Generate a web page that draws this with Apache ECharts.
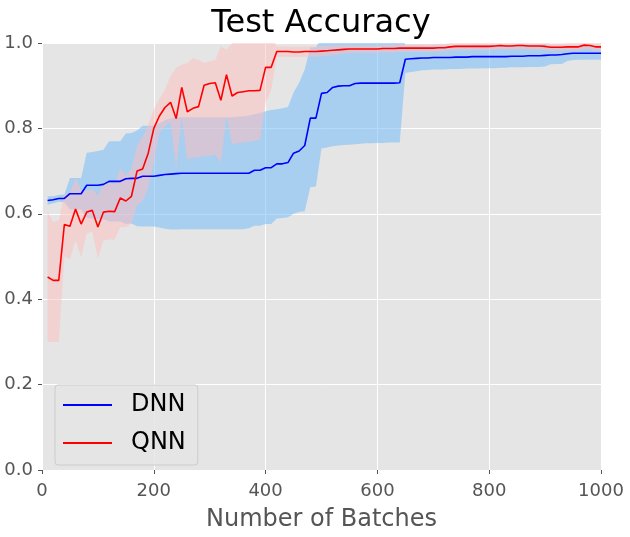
<!DOCTYPE html>
<html>
<head>
<meta charset="utf-8">
<script src="https://cdn.jsdelivr.net/npm/echarts@6/dist/echarts.min.js"></script>
<style>
html,body{margin:0;padding:0;background:#fff;}
#chart{width:630px;height:537px;}
</style>
</head>
<body>
<div id="chart"></div>
<script>
// x positions (number of batches)
const batches = [10,20,30,40,50,60,70,80,90,100,110,120,130,140,150,160,170,180,190,200,
210,220,230,240,250,260,270,280,290,300,310,320,330,340,350,360,370,380,390,400,
410,420,430,440,450,460,470,480,490,500,510,520,530,540,550,560,570,580,590,600,
610,620,630,640,650,660,670,680,690,700,710,720,730,740,750,760,770,780,790,800,
810,820,830,840,850,860,870,880,890,900,910,920,930,940,950,960,970,980,990,1000];

// DNN mean accuracy
const dnnMean = [0.631,0.633,0.636,0.636,0.647,0.647,0.647,0.667,0.667,0.667,
0.669,0.676,0.676,0.676,0.682,0.683,0.683,0.688,0.688,0.688,
0.690,0.692,0.693,0.694,0.695,0.695,0.695,0.695,0.695,0.695,
0.695,0.695,0.695,0.695,0.695,0.695,0.695,0.702,0.702,0.708,
0.708,0.717,0.717,0.720,0.742,0.747,0.760,0.824,0.824,0.882,
0.884,0.896,0.899,0.900,0.900,0.905,0.906,0.906,0.906,0.906,
0.906,0.906,0.906,0.907,0.962,0.963,0.964,0.965,0.965,0.966,
0.966,0.966,0.966,0.967,0.967,0.967,0.968,0.968,0.968,0.968,
0.968,0.968,0.968,0.969,0.969,0.969,0.970,0.970,0.970,0.971,
0.972,0.972,0.973,0.975,0.976,0.976,0.976,0.976,0.976,0.976];

// DNN band: lower and upper edges
const dnnLow = [0.621,0.625,0.628,0.627,0.610,0.610,0.610,0.591,0.589,0.587,
0.588,0.582,0.582,0.582,0.576,0.577,0.571,0.570,0.570,0.570,
0.568,0.565,0.563,0.563,0.564,0.564,0.564,0.564,0.564,0.564,
0.564,0.564,0.564,0.564,0.564,0.564,0.566,0.572,0.572,0.576,
0.576,0.589,0.590,0.592,0.600,0.604,0.606,0.662,0.664,0.753,
0.755,0.758,0.760,0.761,0.762,0.763,0.764,0.765,0.765,0.766,
0.766,0.767,0.767,0.767,0.930,0.932,0.934,0.936,0.937,0.938,
0.938,0.938,0.939,0.939,0.939,0.940,0.940,0.940,0.941,0.941,
0.941,0.942,0.942,0.943,0.943,0.943,0.944,0.944,0.944,0.945,
0.950,0.951,0.951,0.958,0.960,0.961,0.961,0.961,0.961,0.961];

const dnnHigh = [0.641,0.641,0.644,0.645,0.684,0.684,0.684,0.743,0.745,0.747,
0.750,0.770,0.770,0.770,0.788,0.789,0.795,0.806,0.806,0.806,
0.812,0.819,0.823,0.825,0.826,0.826,0.826,0.826,0.826,0.826,
0.826,0.826,0.826,0.826,0.827,0.828,0.830,0.833,0.836,0.840,
0.843,0.845,0.847,0.850,0.884,0.907,0.938,0.990,0.990,1.011,
1.013,1.034,1.038,1.039,1.038,1.047,1.048,1.047,1.047,1.046,
1.046,1.045,1.045,1.047,0.994,0.994,0.994,0.994,0.993,0.994,
0.994,0.994,0.993,0.995,0.995,0.994,0.996,0.996,0.995,0.995,
0.995,0.994,0.994,0.995,0.995,0.995,0.996,0.996,0.996,0.997,
0.994,0.993,0.995,0.992,0.992,0.991,0.991,0.991,0.991,0.991];

// QNN mean accuracy
const qnnMean = [0.452,0.444,0.444,0.575,0.571,0.611,0.576,0.604,0.608,0.569,
0.604,0.606,0.605,0.637,0.630,0.641,0.700,0.705,0.742,0.800,
0.829,0.849,0.861,0.823,0.896,0.839,0.847,0.851,0.901,0.905,
0.907,0.866,0.926,0.876,0.884,0.886,0.888,0.888,0.889,0.943,
0.943,0.980,0.980,0.980,0.979,0.979,0.980,0.980,0.980,0.981,
0.982,0.983,0.984,0.985,0.986,0.986,0.986,0.986,0.986,0.986,
0.987,0.987,0.987,0.988,0.988,0.988,0.988,0.988,0.988,0.988,
0.989,0.989,0.991,0.992,0.992,0.992,0.992,0.992,0.992,0.992,
0.993,0.994,0.993,0.993,0.994,0.994,0.993,0.993,0.993,0.992,
0.990,0.990,0.990,0.991,0.991,0.991,0.995,0.994,0.991,0.991];

// QNN band: lower and upper edges
const qnnLow = [0.300,0.300,0.300,0.500,0.494,0.538,0.498,0.554,0.558,0.496,
0.538,0.540,0.540,0.569,0.569,0.577,0.620,0.630,0.660,0.720,
0.790,0.805,0.815,0.707,0.826,0.727,0.731,0.733,0.735,0.736,
0.738,0.720,0.830,0.763,0.765,0.767,0.769,0.771,0.773,0.860,
0.890,0.968,0.968,0.968,0.967,0.967,0.968,0.968,0.968,0.969,
0.970,0.971,0.973,0.975,0.976,0.977,0.977,0.977,0.977,0.977,
0.978,0.978,0.978,0.979,0.979,0.979,0.979,0.979,0.979,0.979,
0.980,0.980,0.982,0.983,0.983,0.983,0.983,0.983,0.983,0.983,
0.984,0.985,0.984,0.984,0.985,0.985,0.984,0.984,0.984,0.983,
0.981,0.981,0.981,0.982,0.982,0.982,0.986,0.985,0.982,0.982];

const qnnHigh = [0.604,0.581,0.585,0.645,0.648,0.684,0.654,0.654,0.658,0.642,
0.670,0.672,0.670,0.705,0.691,0.705,0.760,0.780,0.810,0.845,
0.869,0.891,0.922,0.942,0.949,0.953,0.964,0.960,0.953,0.957,
0.960,0.992,0.984,0.999,1.003,1.005,1.007,1.005,1.005,1.026,
1.016,0.992,0.992,0.992,0.991,0.991,0.992,0.992,0.992,0.993,
0.994,0.995,0.995,0.995,0.996,0.995,0.995,0.995,0.995,0.995,
0.996,0.996,0.996,0.997,0.997,0.997,0.997,0.997,0.997,0.997,
0.998,0.998,1.000,1.001,1.001,1.001,1.001,1.001,1.001,1.001,
1.002,1.003,1.002,1.002,1.003,1.003,1.002,1.002,1.002,1.001,
0.999,0.999,0.999,1.000,1.000,1.000,1.004,1.003,1.000,1.000];

const xTicks = [0,200,400,600,800,1000];
const yTicks = ['0.0','0.2','0.4','0.6','0.8','1.0'];

const FONT = 'DejaVu Sans';
const pairs = (ys) => batches.map((x,i) => [x, ys[i]]);
const bandRows = (lo, hi) => batches.map((x,i) => [x, lo[i], hi[i]]);

function bandRenderer(lo, hi, color) {
  return function (params, api) {
    if (params.dataIndex !== 0) return null;
    const pts = [];
    for (let i = 0; i < batches.length; i++) pts.push(api.coord([batches[i], hi[i]]));
    for (let i = batches.length - 1; i >= 0; i--) pts.push(api.coord([batches[i], lo[i]]));
    const cs = params.coordSys;
    return {
      type: 'polygon',
      shape: {points: pts},
      style: {fill: color, stroke: null},
      clipPath: {type: 'rect', shape: {x: cs.x, y: cs.y, width: cs.width, height: cs.height}},
      silent: true
    };
  };
}

const chart = echarts.init(document.getElementById('chart'), null, {renderer:'canvas'});
chart.setOption({
  animation: false,
  backgroundColor: '#ffffff',
  textStyle: {fontFamily: FONT},
  title: {
    text: 'Test Accuracy',
    left: 316, top: 3, textAlign: 'center',
    textStyle: {fontFamily: FONT, fontSize: 32, fontWeight: 'normal', color: '#000'}
  },
  grid: {left: 42, right: 29, top: 43, bottom: 60, show: true, backgroundColor: '#E5E5E5', borderWidth: 0},
  legend: {
    data: [{name:'DNN'},{name:'QNN'}],
    left: 55, top: 385,
    orient: 'vertical',
    icon: 'rect',
    itemWidth: 49, itemHeight: 2,
    itemGap: 14,
    padding: [8, 12, 10, 8],
    backgroundColor: 'rgba(229,229,229,0.8)',
    borderColor: '#CCCCCC', borderWidth: 1, borderRadius: 3,
    textStyle: {fontFamily: FONT, fontSize: 24, color: '#000', padding: [0,0,0,14]}
  },
  xAxis: {
    type: 'value', min: 0, max: 1000, interval: 200,
    name: 'Number of Batches', nameLocation: 'middle', nameGap: 38,
    nameTextStyle: {fontFamily: FONT, fontSize: 24, color: '#555555'},
    axisLine: {show: false},
    axisTick: {show: true, length: 4, lineStyle: {color: '#555555'}},
    axisLabel: {fontFamily: FONT, fontSize: 18, color: '#555555', margin: 12,
      formatter: (v) => String(xTicks[xTicks.indexOf(v)])},
    splitLine: {show: true, lineStyle: {color: '#ffffff', width: 1}}
  },
  yAxis: {
    type: 'value', min: 0, max: 1.0, interval: 0.2,
    axisLine: {show: false},
    axisTick: {show: true, length: 4, lineStyle: {color: '#555555'}},
    axisLabel: {fontFamily: FONT, fontSize: 18, color: '#555555', margin: 9,
      formatter: (v) => yTicks[Math.round(v*5)]},
    splitLine: {show: true, lineStyle: {color: '#ffffff', width: 1}}
  },
  series: [
    {name: 'dnnBand', type: 'custom', data: bandRows(dnnLow, dnnHigh),
     encode: {x: 0, y: [1, 2]},
     renderItem: bandRenderer(dnnLow, dnnHigh, 'rgba(120,190,250,0.55)'), silent: true, z: 1},
    {name: 'qnnBand', type: 'custom', data: bandRows(qnnLow, qnnHigh),
     encode: {x: 0, y: [1, 2]},
     renderItem: bandRenderer(qnnLow, qnnHigh, 'rgba(255,190,190,0.5)'), silent: true, z: 2},
    {name: 'DNN', type: 'line', data: pairs(dnnMean), showSymbol: false, symbol: 'none',
     itemStyle: {color: '#0000FF'}, lineStyle: {color: '#0000FF', width: 1.6}, z: 3},
    {name: 'QNN', type: 'line', data: pairs(qnnMean), showSymbol: false, symbol: 'none',
     itemStyle: {color: '#FF0000'}, lineStyle: {color: '#FF0000', width: 1.6}, z: 4}
  ]
});
</script>
</body>
</html>
